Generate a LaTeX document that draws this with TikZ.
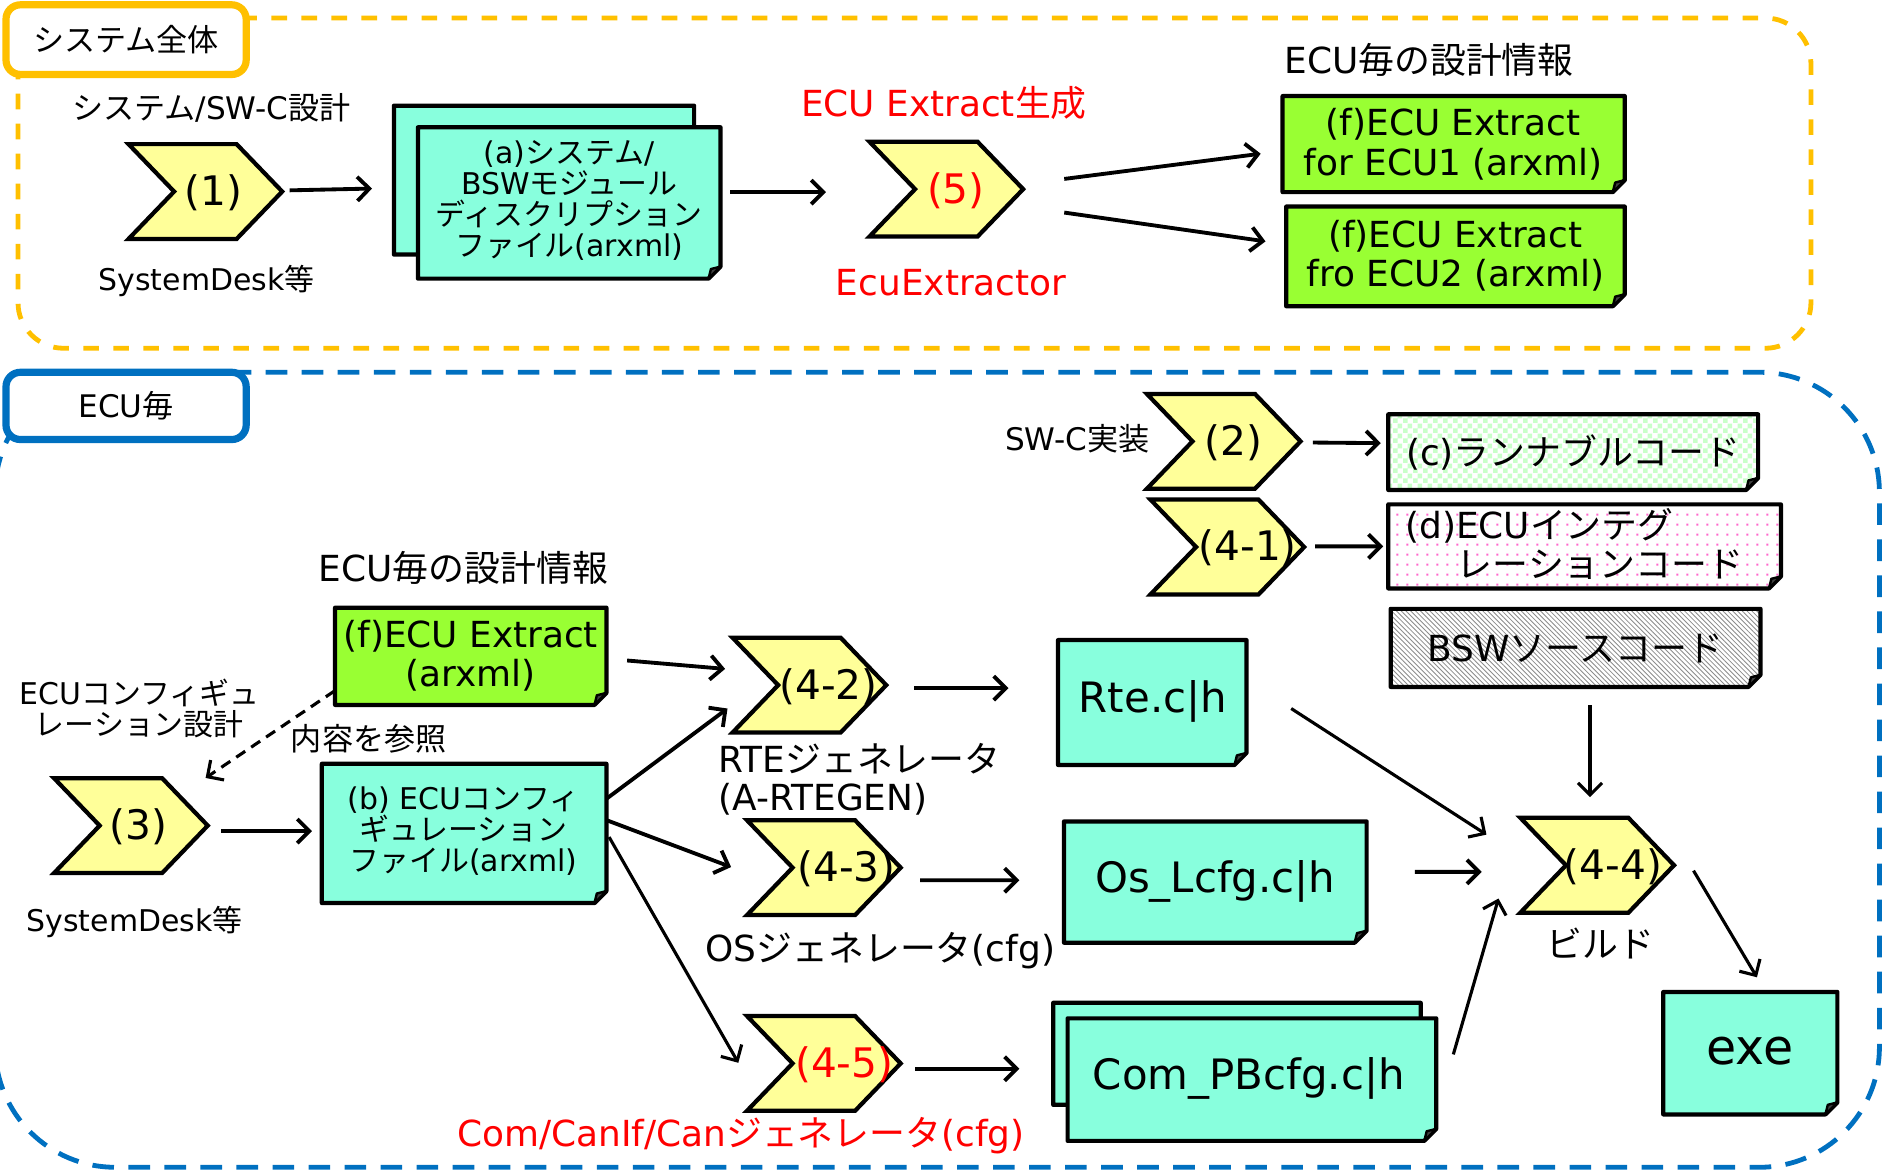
\documentclass[tikz,border=0pt]{standalone}
\usepackage{fontspec}
\setmainfont{DejaVu Sans}
\newfontfamily\cjkfont{Noto Sans CJK JP}
\newfontfamily\latfont{DejaVu Sans}
\usetikzlibrary{arrows.meta,calc,fit,patterns}
\newXeTeXintercharclass\cjkcls
\newcount\mycnt
\newcommand\setcjkrange[2]{\mycnt=#1\relax\loop\XeTeXcharclass\mycnt=\cjkcls\relax\ifnum\mycnt<#2\relax\advance\mycnt by 1\relax\repeat}
\setcjkrange{"3000}{"30FF}
\setcjkrange{"4E00}{"9FFF}
\setcjkrange{"FF00}{"FFEF}
\XeTeXinterchartoks 0 \cjkcls = {\cjkfont}
\XeTeXinterchartoks 4095 \cjkcls = {\cjkfont}
\XeTeXinterchartoks \cjkcls 0 = {\latfont}
\XeTeXinterchartoks 4095 0 = {\latfont}

\definecolor{cteal}{HTML}{88FFDD}
\definecolor{cyel}{HTML}{FFFF99}
\definecolor{cgreen}{HTML}{99FF33}
\definecolor{corange}{HTML}{FFC000}
\definecolor{cblue}{HTML}{0070C0}
\definecolor{cred}{HTML}{FF0000}
\definecolor{ccheck}{HTML}{C8FFC8}
\definecolor{cdot}{HTML}{FF66CC}

\pgfdeclarepatternformonly{mycheck}{\pgfpointorigin}{\pgfqpoint{8bp}{8bp}}{\pgfqpoint{8bp}{8bp}}{%
  \pgfpathrectangle{\pgfpointorigin}{\pgfqpoint{4bp}{4bp}}%
  \pgfpathrectangle{\pgfqpoint{4bp}{4bp}}{\pgfqpoint{4bp}{4bp}}%
  \pgfusepath{fill}}
\pgfdeclarepatternformonly{mydots}{\pgfpointorigin}{\pgfqpoint{8bp}{8bp}}{\pgfqpoint{8bp}{8bp}}{%
  \pgfpathrectangle{\pgfqpoint{3bp}{3bp}}{\pgfqpoint{1.6bp}{1.6bp}}%
  \pgfusepath{fill}}
\pgfdeclarepatternformonly{myhatch}{\pgfqpoint{-1bp}{-1bp}}{\pgfqpoint{5bp}{5bp}}{\pgfqpoint{4bp}{4bp}}{%
  \pgfsetlinewidth{0.7bp}%
  \pgfpathmoveto{\pgfqpoint{0bp}{4bp}}\pgfpathlineto{\pgfqpoint{4bp}{0bp}}%
  \pgfusepath{stroke}}

\newcommand\chev[6]{%
  \draw[chevst] (#2,#3) -- (#2+90,#3) -- (#2+128,#3+39.5) -- (#2+90,#3+79) -- (#2,#3+79) -- (#2+38,#3+39.5) -- cycle;
  \node[fit={(#2,#3) (#2+128,#3+79)}, inner sep=0pt] (#1) {};
  \node[t34, text=#5] (#1t) at ($(#1.center)+(#6,1)$) {#4};
}
\newcommand\docshape[6]{%
  \path[#6] (#2,#3) -- (#4,#3) -- (#4,#5-10) -- (#4-10,#5) -- (#2,#5) -- cycle;
  \draw[docline] (#2,#3) -- (#4,#3) -- (#4,#5-10) -- (#4-10,#5) -- (#2,#5) -- cycle;
  \draw[docline, line width=2bp, fill=black!75] (#4,#5-10) -- (#4-10,#5) -- (#4-8,#5-8) -- cycle;
  \node[fit={(#2,#3) (#4,#5)}, inner sep=0pt] (#1) {};
}

\begin{document}
\XeTeXinterchartokenstate=1
\begin{tikzpicture}[x=1bp,y=-1bp,
  t25/.style={font=\fontsize{25}{26}\selectfont, inner sep=0pt},
  t26/.style={font=\fontsize{26}{28}\selectfont, inner sep=0pt},
  t30/.style={font=\fontsize{30}{33}\selectfont, inner sep=0pt},
  t34/.style={font=\fontsize{34}{36}\selectfont, inner sep=0pt},
  t35/.style={font=\fontsize{35}{38}\selectfont, inner sep=0pt},
  chevst/.style={fill=cyel, draw=black, line width=3.5bp, line join=miter},
  docline/.style={draw=black, line width=3.5bp, line join=round},
  tealfill/.style={fill=cteal},
  greenfill/.style={fill=cgreen},
  checkfill/.style={fill=white, postaction={pattern=mycheck, pattern color=ccheck}},
  dotfill/.style={fill=white, postaction={pattern=mydots, pattern color=cdot}},
  hatchfill/.style={fill=white, postaction={pattern=myhatch, pattern color=black!45}},
  arr/.style={draw=black, line width=3.2bp, -{Straight Barb[length=10bp,width=20bp]}},
  arrthin/.style={draw=black, line width=2.6bp, -{Straight Barb[length=10bp,width=20bp]}},
  orframe/.style={draw=corange, line width=4bp, dash pattern=on 13bp off 12bp, rounded corners=38bp},
  blframe/.style={draw=cblue, line width=4bp, dash pattern=on 18bp off 12bp, rounded corners=100bp},
  labbox/.style={line width=6bp, rounded corners=12bp, fill=white, minimum width=200bp, inner sep=0pt, font=\fontsize{26}{28}\selectfont}
]
\useasboundingbox (0,0) rectangle (1568,978);

% frames
\draw[orframe] (15,15) rectangle (1508,290);
\draw[blframe] (-4,310) rectangle (1565,972);
\node[labbox, draw=corange, minimum height=58bp] (lab1) at (105,33) {システム全体};
\node[labbox, draw=cblue, minimum height=56bp] (lab2) at (105,338) {ECU毎};

% ---- top section
\node[t26] (tsysdesign) at (176,90) {システム/SW-C設計};
\chev{c1}{107}{120}{(1)}{black}{7}
\node[t25] (tsd1) at (172,234) {SystemDesk等};
\docshape{aback}{328}{88}{578}{212}{tealfill}
\docshape{a}{348}{106}{600}{232}{tealfill}
\node[align=center, inner sep=0pt, font=\fontsize{25}{26}\selectfont] (at) at (474,167) {(a)システム/\\BSWモジュール\\ディスクリプション\\ファイル(arxml)};
\node[t30, text=cred] (tgen) at (786,86) {ECU Extract生成};
\chev{c5}{724}{118}{(5)}{cred}{8}
\node[t30, text=cred] (text) at (792,235) {EcuExtractor};
\node[t30] (tinfo1) at (1190,50) {ECU毎の設計情報};
\docshape{g1}{1068}{80}{1353}{160}{greenfill}
\node[t30, align=center] (g1t) at (1210,120) {(f)ECU Extract\\for ECU1 (arxml)};
\docshape{g2}{1071}{172}{1353}{255}{greenfill}
\node[t30, align=center] (g2t) at (1212,213) {(f)ECU Extract\\fro ECU2 (arxml)};

% ---- bottom section
\node[t26] (tswc) at (897,365) {SW-C実装};
\chev{c2}{955}{328}{(2)}{black}{8}
\docshape{cc}{1156}{345}{1464}{408}{checkfill}
\node[t30] (cct) at (1310,377) {(c)ランナブルコード};
\chev{c41}{958}{416}{(4-1)}{black}{17}
\docshape{dd}{1156}{420}{1483}{490}{dotfill}
\node[t30, anchor=west] (ddt1) at (1170,438) {(d)ECUインテグ};
\node[t30, anchor=west] (ddt2) at (1213,470) {レーションコード};
\docshape{bsw}{1158}{507}{1466}{572}{hatchfill}
\node[t30] (bswt) at (1312,540) {BSWソースコード};

\node[t30] (tinfo2) at (386,473) {ECU毎の設計情報};
\docshape{g3}{279}{506}{505}{587}{greenfill}
\node[t30, align=center] (g3t) at (392,546) {(f)ECU Extract\\(arxml)};
\node[inner sep=0pt, align=center, font=\fontsize{25}{26}\selectfont] (tecucfg) at (116,590) {ECUコンフィギュ\\レーション設計};
\node[t26] (tref) at (307,615) {内容を参照};
\chev{c3}{45}{648}{(3)}{black}{6}
\node[t25] (tsd2) at (112,768) {SystemDesk等};
\docshape{b}{268}{636}{505}{752}{tealfill}
\node[align=center, inner sep=0pt, font=\fontsize{25}{26}\selectfont] (bt) at (386,692) {(b) ECUコンフィ\\ギュレーション\\ファイル(arxml)};

\chev{c42}{610}{531}{(4-2)}{black}{16}
\node[inner sep=0pt, align=left, anchor=west, font=\fontsize{30}{32}\selectfont] (trte) at (598,649) {RTEジェネレータ\\(A-RTEGEN)};
\docshape{rte}{881}{533}{1038}{637}{tealfill}
\node[t35] (rtet) at (960,584) {Rte.c|h};
\chev{c43}{622}{683}{(4-3)}{black}{19}
\node[t30] (tos) at (733,792) {OSジェネレータ(cfg)};
\docshape{os}{886}{684}{1138}{785}{tealfill}
\node[t35] (ost) at (1012,734) {Os\_Lcfg.c|h};
\chev{c45}{622}{846}{(4-5)}{cred}{17}
\node[t30, text=cred] (tcom) at (617,946) {Com/CanIf/Canジェネレータ(cfg)};
\docshape{comback}{877}{835}{1183}{920}{tealfill}
\docshape{com}{889}{848}{1196}{950}{tealfill}
\node[t35] (comt) at (1040,898) {Com\_PBcfg.c|h};
\chev{c44}{1266}{681}{(4-4)}{black}{13}
\node[t30] (tbuild) at (1333,786) {ビルド};
\docshape{exe}{1385}{826}{1530}{928}{tealfill}
\node[inner sep=0pt, font=\fontsize{41}{45}\selectfont] (exet) at (1457,875) {exe};

% ---- connectors
\draw[arr] ($(c1.east)+(6,-1)$) -- ($(aback.west)+(-18,7)$);
\draw[arr] ($(a.east)+(8,-9)$) -- ($(c5.west)+(-36,2.5)$);
\draw[arr] ($(c5.east)+(34,-8.5)$) -- ($(g1.west)+(-18,8)$);
\draw[arr] ($(c5.east)+(34,19.5)$) -- ($(g2.west)+(-17,-12.5)$);
\draw[arr] ($(c2.east)+(10,1)$) -- ($(cc.west)+(-6,-7.5)$);
\draw[arr] ($(c41.east)+(9,-0.5)$) -- ($(dd.west)+(-4,0)$);
\draw[arrthin] ($(bsw.south)+(12,15)$) -- ($(c44.north)+(-6,-17)$);
\draw[arrthin, dash pattern=on 9bp off 6bp] ($(g3.south west)+(0,-12)$) -- ($(c3.north east)+(-2,0)$);
\draw[arr] ($(c3.east)+(11,4.5)$) -- ($(b.west)+(-8,-2)$);
\draw[arr] ($(g3.east)+(17,3.5)$) -- ($(c42.west)+(-6,-13.5)$);
\draw[arr] ($(b.east)+(0,-29)$) -- ($(c42.west)+(-4,19.5)$);
\draw[arr] ($(b.east)+(0,-11)$) -- ($(c43.west)+(-13,-0.5)$);
\draw[arrthin] ($(b.east)+(2,3)$) -- ($(c45.west)+(-7,-0.5)$);
\draw[arr] ($(c42.east)+(23,2.5)$) -- ($(rte.west)+(-41,-12)$);
\draw[arr] ($(c43.east)+(16,10.5)$) -- ($(os.west)+(-37,-1.5)$);
\draw[arr] ($(c45.east)+(12,4.5)$) -- ($(comback.west)+(-28,12.5)$);
\draw[arrthin] ($(rte.east)+(37,5)$) -- ($(c44.west)+(-28,-25.5)$);
\draw[arr] ($(os.east)+(40,-8.5)$) -- ($(c44.west)+(-32,5.5)$);
\draw[arrthin] ($(com.east)+(14,-21)$) -- ($(c44.south west)+(-18,-12)$);
\draw[arrthin] ($(c44.east)+(16,4.5)$) -- ($(exe.north)+(5.5,-12)$);
\end{tikzpicture}
\end{document}
